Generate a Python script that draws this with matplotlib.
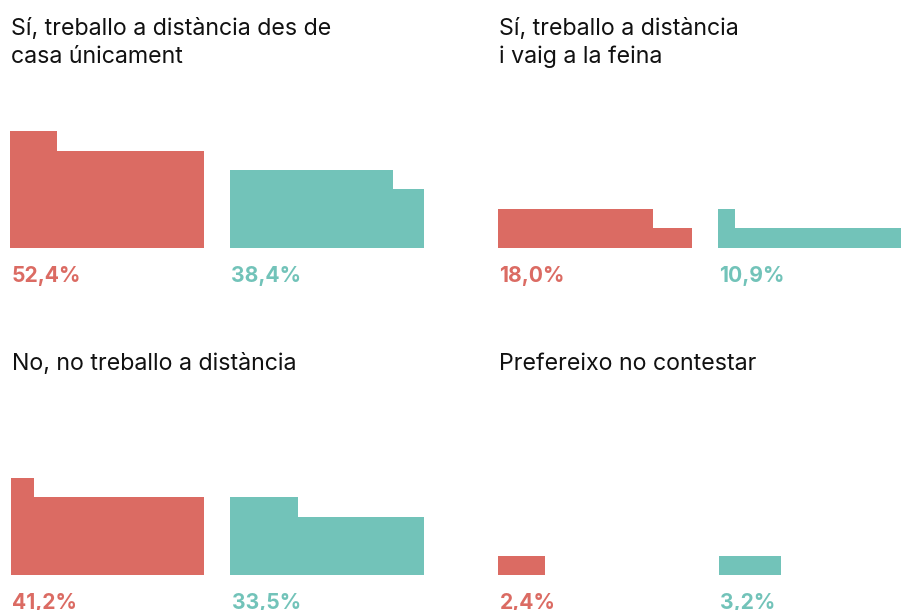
import matplotlib
matplotlib.use("Agg")
from matplotlib import pyplot as plt

plt.rcParams['font.family'] = ['Inter', 'DejaVu Sans']

# data
categories = ["Sí, treballo a distància des de\ncasa únicament",
              "Sí, treballo a distància\ni vaig a la feina",
              "No, no treballo a distància",
              "Prefereixo no contestar"]
red_vals = [52.4, 18.0, 41.2, 2.4]
teal_vals = [38.4, 10.9, 33.5, 3.2]

RED = '#DB6B63'
TEAL = '#72C3B9'

W, H = 901, 610
cell = 19.4          # px per 1% square
per_row = 10
teal_x = 220 / cell  # offset of teal block in cells

# panel anchors in pixels: (left, bar bottom from top, title last baseline from top)
anchors = [(10, 247.5, 63), (498, 247.5, 63), (10.5, 575, 370), (498.5, 575, 370)]

fig = plt.figure(figsize=(W / 100, H / 100), dpi=100)


def fmt(v):
    return f"{v:.1f}".replace('.', ',') + '%'


def draw_block(ax, x0, v, color):
    full = int(v // per_row)
    rem = v - full * per_row
    if full:
        ax.bar(x0, full, width=per_row, bottom=0, align='edge', color=color, linewidth=0)
    if rem > 0:
        ax.bar(x0, 1, width=rem, bottom=full, align='edge', color=color, linewidth=0)


for i, title in enumerate(categories):
    left, bottom, tb = anchors[i]
    ncols, nrows = 23, 7
    ax = fig.add_axes([left / W, 1 - bottom / H, ncols * cell / W, nrows * cell / H])
    ax.set_xlim(0, ncols)
    ax.set_ylim(0, nrows)
    ax.axis('off')
    draw_block(ax, 0, red_vals[i], RED)
    draw_block(ax, teal_x, teal_vals[i], TEAL)
    for x0, v, c in [(0, red_vals[i], RED), (teal_x, teal_vals[i], TEAL)]:
        ax.annotate(fmt(v), (x0, 0), xytext=(1.0, -34 * 0.72), textcoords='offset points',
                    ha='left', va='baseline', fontsize=15.2, fontweight='bold', color=c)
    fig.text((left + 1.0) / W, 1 - tb / H, title, ha='left', va='baseline',
             fontsize=16.7, color='#111111', linespacing=1.34)

fig.savefig('out.png', dpi=100)
